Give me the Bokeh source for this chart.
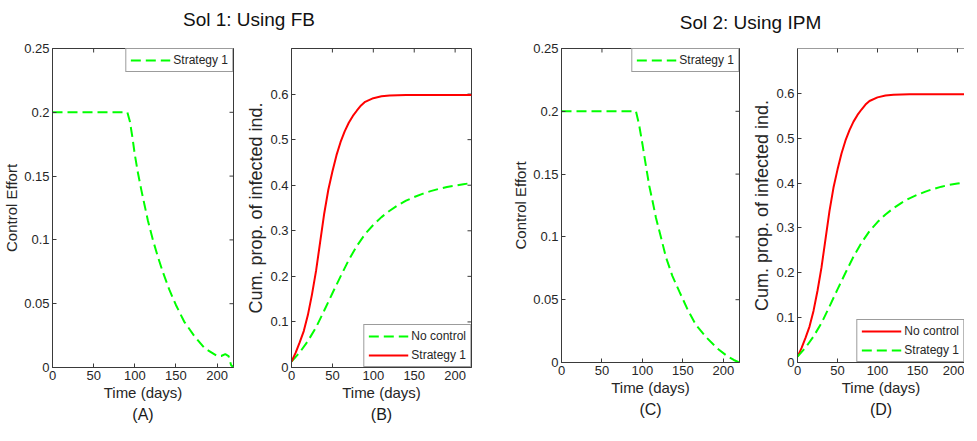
import math
from bokeh.plotting import figure
from bokeh.layouts import column, row
from bokeh.models import FixedTicker, Range1d, Legend, LegendItem, Label, Title, Span
from bokeh.embed import file_html
from bokeh.resources import INLINE

# ---------------- data ----------------
x_ticks = [0, 50, 100, 150, 200]
x_tick_labels = ["0", "50", "100", "150", "200"]
ctrl_ticks = [0, 0.05, 0.1, 0.15, 0.2, 0.25]
ctrl_tick_labels = ["0", "0.05", "0.1", "0.15", "0.2", "0.25"]
cum_ticks = [0, 0.1, 0.2, 0.3, 0.4, 0.5, 0.6]
cum_tick_labels = ["0", "0.1", "0.2", "0.3", "0.4", "0.5", "0.6"]

# (A) control effort, FB
days_ctrl_fb = [0, 91, 94, 97, 100, 104, 108, 112, 116, 122, 128, 134, 142, 150, 160,
                172, 185, 195, 200, 205, 210, 214, 217, 220]
ctrl_fb = [0.2, 0.2, 0.193, 0.181, 0.167, 0.152, 0.139, 0.127, 0.115, 0.100, 0.087, 0.075,
           0.061, 0.049, 0.036, 0.025, 0.015, 0.011, 0.009, 0.009, 0.0105, 0.009, 0.002, 0.0]

# (C) control effort, IPM
days_ctrl_ipm = [0, 92, 96, 100, 104.5, 108.5, 112.7, 116.8, 123, 129, 137, 146, 156, 166,
                 179, 193, 205, 213, 220]
ctrl_ipm = [0.2, 0.2, 0.189, 0.174, 0.156, 0.1405, 0.128, 0.115, 0.0995, 0.084, 0.069,
            0.056, 0.042, 0.030, 0.020, 0.011, 0.005, 0.002, 0.0]

# cumulative proportion of infected individuals
days_cum_fast = [0, 5, 10, 15, 20, 25, 30, 35, 40, 45, 50, 55, 60, 65, 70, 75, 80, 85, 90,
                 100, 110, 120, 140, 160, 180, 200, 220]
cum_fast = [0.013, 0.032, 0.055, 0.08, 0.115, 0.16, 0.212, 0.275, 0.338, 0.39, 0.43, 0.466,
            0.495, 0.518, 0.537, 0.552, 0.564, 0.575, 0.583, 0.591, 0.595, 0.597, 0.598,
            0.598, 0.598, 0.598, 0.598]
days_cum_slow = [0, 10, 20, 30, 40, 50, 60, 70, 80, 90, 100, 110, 120, 130, 140, 150, 160,
                 170, 180, 190, 200, 210, 220]
cum_slow = [0.013, 0.033, 0.058, 0.088, 0.125, 0.163, 0.2, 0.236, 0.267, 0.293, 0.313, 0.33,
            0.344, 0.356, 0.366, 0.374, 0.381, 0.387, 0.392, 0.396, 0.399, 0.402, 0.405]

# ---------------- style ----------------
FONT = "Liberation Sans"
AX = "#3a3a3a"
TXT = "#262626"
GREEN = "#00ff00"
RED = "#ff0000"
DASH = "10 5"


def style_axis(ax, ticks, labels, label, label_size="15px"):
    ax.ticker = FixedTicker(ticks=ticks)
    ax.major_label_overrides = dict(zip(ticks, labels))
    ax.axis_line_color = AX
    ax.major_tick_line_color = AX
    ax.major_tick_in = 4
    ax.major_tick_out = 0
    ax.minor_tick_line_color = None
    ax.major_label_text_font = FONT
    ax.major_label_text_color = TXT
    ax.major_label_text_font_size = "13px"
    ax.major_label_standoff = 3
    ax.axis_label = label
    ax.axis_label_text_font = FONT
    ax.axis_label_text_font_size = label_size
    ax.axis_label_text_font_style = "normal"
    ax.axis_label_text_color = TXT
    ax.axis_label_standoff = 1


def panel(fw, fh, bl, br, bt, bb, xmax, ymax, yticks, ylabels, ylabel, ylabel_size, tag,
          right_side=True):
    p = figure(frame_width=fw, frame_height=fh, min_border_left=bl, min_border_right=br,
               min_border_top=bt, min_border_bottom=bb, title=None,
               x_range=Range1d(0, xmax), y_range=Range1d(0, ymax),
               toolbar_location=None, output_backend="svg",
               outline_line_color=AX if right_side else None,
               background_fill_color="white", border_fill_color="white")
    p.grid.visible = False
    style_axis(p.xaxis[0], x_ticks, x_tick_labels, "Time (days)")
    style_axis(p.yaxis[0], yticks, ylabels, ylabel, ylabel_size)
    # inward ticks on the top edge (and right edge), clipped to the frame
    p.scatter(x=x_ticks, y=[ymax] * len(x_ticks), marker="dash", size=8,
              angle=math.pi / 2, line_color=AX, line_width=1)
    if right_side:
        p.scatter(x=[xmax] * len(yticks), y=yticks, marker="dash", size=8,
                  line_color=AX, line_width=1)
    else:
        p.add_layout(Span(location=ymax, dimension="width", line_color=AX, line_width=1))
    p.add_layout(Title(text=tag, align="center", text_font=FONT, text_font_size="16px",
                       text_font_style="normal", text_color="#1a1a1a", standoff=0,
                       offset=0), "below")
    return p


def add_legend(p, items, loc):
    lg = Legend(items=items, location=loc, margin=0, padding=4, spacing=5,
                glyph_width=40, glyph_height=14, label_height=14, label_standoff=3,
                label_text_font=FONT, label_text_font_size="12px", label_text_color=TXT,
                border_line_color=AX, border_line_width=1,
                background_fill_color="white", background_fill_alpha=1.0)
    p.add_layout(lg)


# ---------------- header ----------------
hdr = figure(width=961, height=34, min_border=0, title=None,
             x_range=Range1d(0, 961), y_range=Range1d(0, 34),
             x_axis_location=None, y_axis_location=None,
             toolbar_location=None, output_backend="svg", outline_line_color=None,
             background_fill_color="white", border_fill_color="white")
hdr.grid.visible = False
hdr.add_layout(Label(x=248.5, y=15, text="Sol 1: Using FB", text_align="center",
                     text_baseline="alphabetic", text_font=FONT, text_font_size="19px",
                     text_color="#111111"))
hdr.add_layout(Label(x=750, y=12, text="Sol 2: Using IPM", text_align="center",
                     text_baseline="alphabetic", text_font=FONT, text_font_size="19px",
                     text_color="#111111"))

# ---------------- panels ----------------
pA = panel(181, 319, 51, 10, 9, 63, 220, 0.25, ctrl_ticks, ctrl_tick_labels,
           "Control Effort", "15px", "(A)")
rA = pA.line(days_ctrl_fb, ctrl_fb, line_color=GREEN, line_width=2, line_dash=DASH)
add_legend(pA, [LegendItem(label="Strategy 1", renderers=[rA])], "top_right")

pB = panel(180, 319, 47, 38, 9, 63, 220, 0.7, cum_ticks, cum_tick_labels,
           "Cum. prop. of infected ind.", "18px", "(B)")
gB = pB.line(days_cum_slow, cum_slow, line_color=GREEN, line_width=2, line_dash=DASH)
rB = pB.line(days_cum_fast, cum_fast, line_color=RED, line_width=2)
add_legend(pB, [LegendItem(label="No control", renderers=[gB]),
                LegendItem(label="Strategy 1", renderers=[rB])], "bottom_right")

pC = panel(178, 314, 52, 10, 14, 63, 220, 0.25, ctrl_ticks, ctrl_tick_labels,
           "Control Effort", "15px", "(C)")
rC = pC.line(days_ctrl_ipm, ctrl_ipm, line_color=GREEN, line_width=2, line_dash=DASH)
add_legend(pC, [LegendItem(label="Strategy 1", renderers=[rC])], "top_right")

pD = panel(167, 314, 47, 0, 14, 63, 208.75, 0.7, cum_ticks, cum_tick_labels,
           "Cum. prop. of infected ind.", "18px", "(D)", right_side=False)
rD = pD.line(days_cum_fast, cum_fast, line_color=RED, line_width=2)
gD = pD.line(days_cum_slow, cum_slow, line_color=GREEN, line_width=2, line_dash=DASH)
add_legend(pD, [LegendItem(label="No control", renderers=[rD]),
                LegendItem(label="Strategy 1", renderers=[gD])], "bottom_right")

layout = column(hdr, row(pA, pB, pC, pD, spacing=0), spacing=0)
open("out.html", "w").write(file_html(layout, INLINE))
